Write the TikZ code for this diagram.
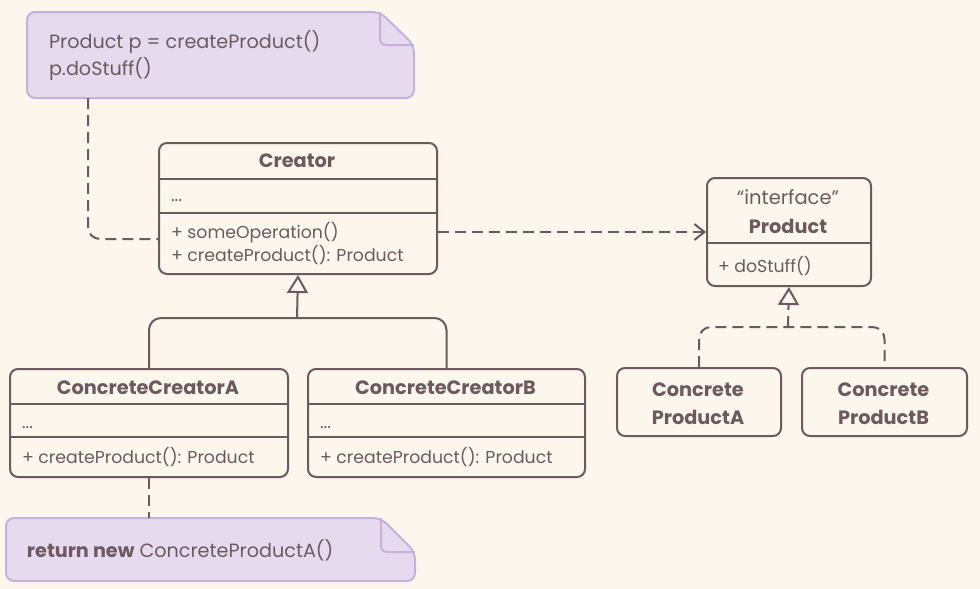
\documentclass[tikz,border=0pt]{standalone}
\usepackage{fontspec}
\setmainfont{Poppins}
\usetikzlibrary{arrows.meta}
\definecolor{bg}{RGB}{253,246,236}
\definecolor{ink}{RGB}{108,90,95}
\definecolor{notefill}{RGB}{230,218,238}
\definecolor{noteline}{RGB}{200,176,220}
\begin{document}
\begin{tikzpicture}[x=1pt, y=-1pt, line width=2pt, line join=round,
  classbox/.style={draw=ink, rounded corners=8pt, fill=bg, anchor=north west, inner sep=0pt},
  notebox/.style={anchor=north west, inner sep=0pt},
  txt/.style={text=ink, inner sep=0pt, anchor=base west, font=\fontsize{17.3}{20}\selectfont},
  ttl/.style={text=ink, inner sep=0pt, anchor=base, font=\fontsize{19.3}{22}\selectfont\bfseries},
  notetxt/.style={text=ink, inner sep=0pt, anchor=base west, font=\fontsize{19.2}{22}\selectfont},
  link/.style={draw=ink},
  dashlink/.style={draw=ink, dash pattern=on 11pt off 6pt},
  inherit/.style={-{Triangle[open, length=18pt, width=21pt, line width=2pt]}},
  depend/.style={-{Straight Barb[length=10pt, width=16pt, line width=2pt]}},
]
\useasboundingbox[fill=bg] (0,0) rectangle (980,589);

% ---------- notes ----------
\node[notebox, minimum width=385pt, minimum height=84pt] (note1) at (27,12) {};
\draw[fill=notefill, draw=noteline, rounded corners=8pt]
  ([xshift=-34pt]note1.north east) -- (note1.north west) -- (note1.south west)
  -- (note1.south east) -- ([yshift=-33pt]note1.north east) -- cycle;
\draw[draw=noteline, rounded corners=6pt]
  ([xshift=-34pt]note1.north east) |- ([yshift=-33pt]note1.north east);
\node[notetxt] (n1a) at (48,48) {Product p = createProduct()};
\node[notetxt] (n1b) at (48,75) {p.doStuff()};

\node[notebox, minimum width=407pt, minimum height=61pt] (note2) at (6,518) {};
\draw[fill=notefill, draw=noteline, rounded corners=8pt]
  ([xshift=-34pt]note2.north east) -- (note2.north west) -- (note2.south west)
  -- (note2.south east) -- ([yshift=-34pt]note2.north east) -- cycle;
\draw[draw=noteline, rounded corners=6pt]
  ([xshift=-34pt]note2.north east) |- ([yshift=-34pt]note2.north east);
\node[notetxt] (n2a) at (26,557) {\textbf{return new} ConcreteProductA()};

% ---------- Creator ----------
\node[classbox, minimum width=278pt, minimum height=131pt] (creator) at (158,142) {};
\draw[link] ([yshift=-37pt]creator.north west) -- ([yshift=-37pt]creator.north east);
\draw[link] ([yshift=-71pt]creator.north west) -- ([yshift=-71pt]creator.north east);
\node[ttl] (creatorT) at (297,167) {Creator};
\node[txt] (creatorF) at (170,201) {...};
\node[txt] (creatorM1) at (170,238) {+ someOperation()};
\node[txt] (creatorM2) at (170,261) {+ createProduct(): Product};

% ---------- Product ----------
\node[classbox, minimum width=164pt, minimum height=108pt] (product) at (706,177) {};
\draw[link] ([yshift=-66pt]product.north west) -- ([yshift=-66pt]product.north east);
\node[text=ink, inner sep=0pt, anchor=base, font=\fontsize{19.5}{22}\selectfont] (productS) at (788,204) {“interface”};
\node[ttl] (productT) at (788,233) {Product};
\node[txt] (productM) at (717,272) {+ doStuff()};

% ---------- ConcreteCreatorA / B ----------
\node[classbox, minimum width=278pt, minimum height=108pt] (cca) at (9,368) {};
\draw[link] ([yshift=-36pt]cca.north west) -- ([yshift=-36pt]cca.north east);
\draw[link] ([yshift=-69pt]cca.north west) -- ([yshift=-69pt]cca.north east);
\node[ttl] (ccaT) at (148,394) {ConcreteCreatorA};
\node[txt] (ccaF) at (21,428) {...};
\node[txt] (ccaM) at (21,463) {+ createProduct(): Product};

\node[classbox, minimum width=277pt, minimum height=108pt] (ccb) at (307,368) {};
\draw[link] ([yshift=-36pt]ccb.north west) -- ([yshift=-36pt]ccb.north east);
\draw[link] ([yshift=-69pt]ccb.north west) -- ([yshift=-69pt]ccb.north east);
\node[ttl] (ccbT) at (445.5,394) {ConcreteCreatorB};
\node[txt] (ccbF) at (319,428) {...};
\node[txt] (ccbM) at (319,463) {+ createProduct(): Product};

% ---------- ConcreteProductA / B ----------
\node[classbox, minimum width=164pt, minimum height=68pt] (cpa) at (616,367) {};
\node[ttl] (cpaT1) at (698,396) {Concrete};
\node[ttl] (cpaT2) at (698,424) {ProductA};
\node[classbox, minimum width=165pt, minimum height=68pt] (cpb) at (801,367) {};
\node[ttl] (cpbT1) at (883.5,396) {Concrete};
\node[ttl] (cpbT2) at (883.5,424) {ProductB};

% ---------- connectors ----------
\coordinate (cj) at (297,318);
\draw[link, rounded corners=12pt] (cca.north) |- (cj) -| (ccb.north);
\draw[link, inherit] (cj) -- (creator.south);

\coordinate (pj) at (788,327);
\draw[dashlink, rounded corners=12pt] (cpa.north) |- (pj) -| (cpb.north);
\draw[dashlink, inherit] (pj) -- (product.south);

\draw[dashlink, depend] (creator.east |- product.west) -- (product.west);

\draw[dashlink, rounded corners=12pt] ([xshift=61pt]note1.south west) |- ([yshift=36pt]creator.south west);
\draw[dashlink] (cca.south) -- (cca.south |- note2.north);
\end{tikzpicture}
\end{document}
